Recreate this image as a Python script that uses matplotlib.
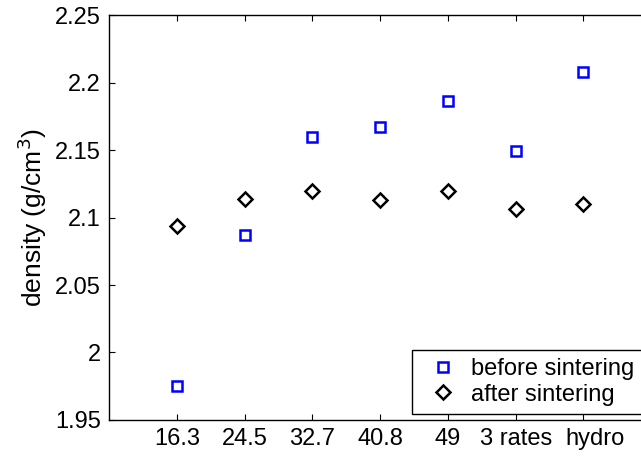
import matplotlib
matplotlib.use("Agg")
import matplotlib.pyplot as plt
import matplotlib.transforms as mtransforms

plt.rcParams['font.family'] = ['Liberation Sans', 'DejaVu Sans']

## Data
categories = ['16.3', '24.5', '32.7', '40.8', '49', '3 rates', 'hydro']
before = [1.975, 2.087, 2.160, 2.167, 2.186, 2.149, 2.208]
after = [2.094, 2.114, 2.120, 2.113, 2.120, 2.106, 2.110]
yticks = [1.95, 2.0, 2.05, 2.1, 2.15, 2.2, 2.25]
ytick_labels = ['1.95', '2', '2.05', '2.1', '2.15', '2.2', '2.25']

x = list(range(1, len(categories) + 1))
fs = 17

fig = plt.figure(figsize=(6.41, 4.57), dpi=100)
# axes runs past the right edge, like the cropped original
ax = fig.add_axes([0.170, 0.081, 0.846, 0.886])

ax.plot(x, before, linestyle='none', marker='s', markersize=7,
        markerfacecolor='none', markeredgecolor='#0000ff', markeredgewidth=1.8,
        label='before sintering')
ax.plot(x, after, linestyle='none', marker='D', markersize=7,
        markerfacecolor='none', markeredgecolor='black', markeredgewidth=1.8,
        label='after sintering')

ax.set_xlim(0, 8)
ax.set_ylim(1.95, 2.25)
ax.set_xticks(x)
ax.set_xticklabels(categories)
ax.set_yticks(yticks)
ax.set_yticklabels(ytick_labels)
ax.tick_params(direction='in', length=4, width=0.8, labelsize=fs, top=True, right=True, pad=6)
for s in ax.spines.values():
    s.set_linewidth(1.0)

# the last label sits a little right of its tick in the original
lab = ax.get_xticklabels()[-1]
lab.set_transform(lab.get_transform() + mtransforms.ScaledTranslation(0.12, 0, fig.dpi_scale_trans))

ax.set_ylabel('density (g/cm$^3$)', fontsize=19, labelpad=4)

# legend box is cut by the right edge too
leg = ax.legend(loc='lower left', bbox_to_anchor=(412 / 641, 43 / 457, 250 / 641, 0.15),
                bbox_transform=fig.transFigure, borderaxespad=0, mode='expand',
                fancybox=False, edgecolor='black', fontsize=fs,
                handletextpad=0.26, borderpad=0.35, labelspacing=0.15,
                handlelength=1.9, framealpha=1)
leg.get_frame().set_linewidth(1.0)

plt.savefig('out.png', dpi=100)
